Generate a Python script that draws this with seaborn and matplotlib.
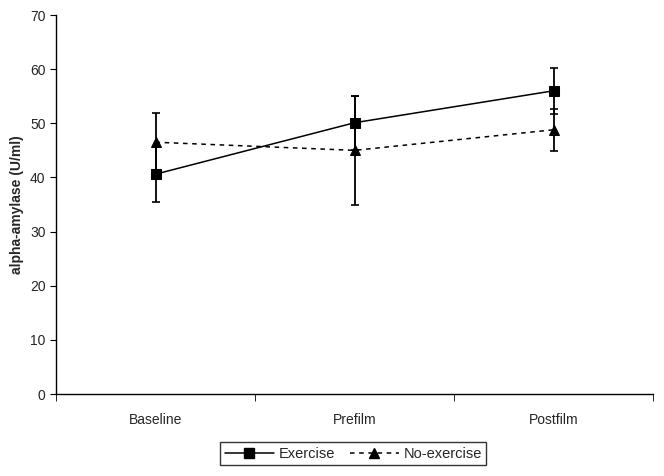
import matplotlib
matplotlib.use("Agg")
import matplotlib.pyplot as plt
import seaborn as sns
import pandas as pd
from matplotlib.ticker import FixedLocator
from matplotlib.lines import Line2D

# --- DATA ---
timepoints = ["Baseline", "Prefilm", "Postfilm"]
exercise_mean = [40.6, 50.1, 56.0]
exercise_err = [5.1, 5.0, 4.3]
noexercise_mean = [46.5, 45.0, 48.8]
noexercise_err = [5.4, 10.0, 3.9]
y_ticks = [0, 10, 20, 30, 40, 50, 60, 70]

sns.set_style("ticks")
plt.rcParams['font.family'] = ['Liberation Sans', 'DejaVu Sans']

df = pd.DataFrame({
    "Time": timepoints * 2,
    "Amylase": exercise_mean + noexercise_mean,
    "Group": ["Exercise"] * 3 + ["No-exercise"] * 3,
})

fig = plt.figure(figsize=(6.64, 4.76), dpi=100)
ax = fig.add_axes([56 / 664, 82 / 476, 597 / 664, 379 / 476])

# error bars first so markers sit on top
xpos = range(len(timepoints))
ax.errorbar(xpos, exercise_mean, yerr=exercise_err, fmt="none", ecolor="black",
            elinewidth=1.3, capsize=3, capthick=1.2, zorder=2)
ax.errorbar(xpos, noexercise_mean, yerr=noexercise_err, fmt="none", ecolor="black",
            elinewidth=1.3, capsize=3, capthick=1.2, zorder=2)

sns.lineplot(data=df, x="Time", y="Amylase", hue="Group", style="Group",
             palette={"Exercise": "black", "No-exercise": "black"},
             markers={"Exercise": "s", "No-exercise": "^"},
             dashes={"Exercise": "", "No-exercise": (3, 3)},
             markersize=7, markeredgecolor="black", linewidth=1.1,
             ax=ax, legend=False, zorder=3)

ax.set_xlim(-0.5, 2.5)
ax.set_ylim(0, 70)
ax.set_yticks(y_ticks)
ax.set_xticks(list(xpos))
ax.set_xticklabels(timepoints)
ax.xaxis.set_minor_locator(FixedLocator([-0.5, 0.5, 1.5, 2.5]))
ax.tick_params(axis="x", which="major", length=0, pad=14, labelsize=10)
ax.tick_params(axis="x", which="minor", length=5, direction="out", color="black")
ax.tick_params(axis="y", length=4, direction="out", labelsize=10, color="black")
ax.set_xlabel("")
ax.set_ylabel("alpha-amylase (U/ml)", fontsize=10, fontweight="bold")
for s in ["left", "bottom"]:
    ax.spines[s].set_color("black")
    ax.spines[s].set_linewidth(1.0)
sns.despine(ax=ax)

# legend below the axes, boxed
handles = [
    Line2D([], [], color="black", lw=1.1, marker="s", markersize=6.5),
    Line2D([], [], color="black", lw=1.1, ls=(0, (3, 3)), marker="^", markersize=6.5),
]
leg = fig.legend(handles, ["Exercise", "No-exercise"], loc="center",
                 bbox_to_anchor=(0.532, 0.047), ncol=2, frameon=True,
                 fancybox=False, edgecolor="black", fontsize=10.5,
                 handlelength=3.4, columnspacing=1.0, handletextpad=0.3,
                 borderpad=0.3)
leg.get_frame().set_linewidth(1.0)

fig.savefig("out.png", dpi=100)
